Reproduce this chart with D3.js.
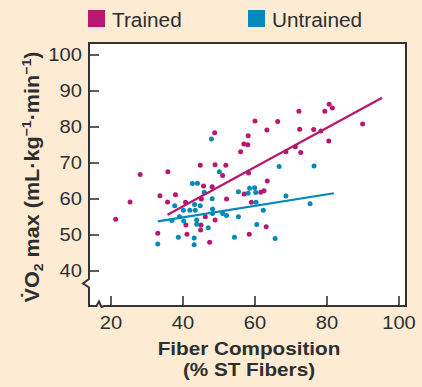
<!DOCTYPE html>
<html>
<head>
<meta charset="utf-8">
<script src="https://cdn.jsdelivr.net/npm/d3@7"></script>
<style>
  body { margin: 0; background: #fdebd4; }
  svg { display: block; }
  text { font-family: "Liberation Sans", Arial, Helvetica, sans-serif; fill: #2e2e2e; }
</style>
</head>
<body>
<svg id="chart" width="422" height="387"></svg>
<script>
// values
const trainedFiber = [21.3, 25.3, 28.1, 33.0, 33.6, 35.7, 35.8, 37.9, 40.7, 40.8, 41.1, 44.8, 45.1, 45.0, 44.9, 45.7, 46.2, 47.4, 48.1, 48.8, 48.9, 48.9, 51.0, 51.9, 52.1, 56.0, 56.9, 58.0, 58.1, 58.2, 57.0, 58.4, 59.0, 60.0, 61.6, 62.5, 63.1, 63.4, 63.3, 66.3, 68.6, 71.2, 72.2, 72.4, 72.7, 76.3, 78.3, 79.4, 80.5, 80.6, 81.5, 89.9];
const trainedVO2 = [54.4, 59.2, 66.8, 50.5, 60.9, 59.2, 67.6, 61.2, 59.1, 52.8, 50.2, 69.4, 60.0, 52.8, 51.4, 63.6, 55.1, 48.0, 63.4, 78.4, 69.5, 54.2, 66.5, 69.4, 60.0, 73.1, 75.3, 75.1, 77.6, 67.2, 61.4, 50.2, 59.1, 81.7, 61.9, 62.3, 52.3, 65.0, 79.2, 81.5, 73.1, 74.5, 84.4, 79.4, 72.9, 79.3, 78.9, 84.4, 76.1, 86.3, 85.3, 80.8];
const untrainedFiber = [33.0, 36.9, 37.7, 38.7, 39.0, 40.1, 40.2, 41.9, 42.6, 43.1, 43.1, 43.2, 43.4, 43.8, 43.8, 44.0, 44.8, 45.9, 47.0, 47.9, 48.1, 48.2, 48.2, 50.1, 51.0, 52.1, 54.3, 55.4, 55.4, 58.1, 58.5, 59.9, 60.2, 60.3, 60.5, 62.3, 65.6, 66.7, 68.6, 75.3, 76.4];
const untrainedVO2 = [47.5, 54.0, 58.1, 49.4, 55.1, 56.9, 53.9, 56.9, 64.3, 49.2, 47.3, 58.5, 56.9, 54.2, 53.0, 64.4, 58.1, 61.9, 52.0, 76.7, 60.1, 57.2, 56.0, 67.6, 56.0, 55.4, 49.4, 62.0, 55.1, 61.6, 63.0, 63.1, 61.8, 59.1, 52.9, 56.9, 49.0, 69.0, 60.8, 58.7, 69.2];
// fitted lines: [fiber, vo2] at each end
const trainedFit = [[35.7, 55.6], [95.3, 88.1]];
const untrainedFit = [[33.0, 53.8], [81.9, 61.6]];
const xTicks = [20, 40, 60, 80, 100];
const yTicks = [40, 50, 60, 70, 80, 90, 100];
const series = ["Trained", "Untrained"];

const colors = { Trained: "#b8176f", Untrained: "#0089ba" };
const ink = "#333";

const svg = d3.select("#chart");

// frame of the plot
const fLeft = 89, fRight = 406, fTop = 43, fBottom = 306;

const x = d3.scaleLinear().domain([20, 100]).range([111, 399]);
const y = d3.scaleLinear().domain([40, 100]).range([271, 55]);

svg.append("rect")
  .attr("x", fLeft).attr("y", fTop)
  .attr("width", fRight - fLeft).attr("height", fBottom - fTop)
  .attr("fill", "white");

// box with axis breaks at the bottom-left corner
svg.append("path")
  .attr("d", `M${fLeft},279 L83,283.5 L${fLeft},287.5 L${fLeft},${fBottom}` +
    ` L96.5,${fBottom} L99,301.5 L101.5,${fBottom + 1} L104,${fBottom}` +
    ` L${fRight},${fBottom} L${fRight},${fTop} L${fLeft},${fTop} Z`)
  .attr("fill", "none")
  .attr("stroke", ink)
  .attr("stroke-width", 2);

// the type in the picture is a bit wider than Liberation Sans
const stretch = 1.12;

// y axis ticks (inside)
const yAxis = svg.append("g");
yAxis.selectAll("line")
  .data(yTicks)
  .join("line")
  .attr("x1", fLeft).attr("x2", fLeft + 10)
  .attr("y1", d => y(d)).attr("y2", d => y(d))
  .attr("stroke", ink).attr("stroke-width", 1.6);
yAxis.selectAll("text")
  .data(yTicks)
  .join("text")
  .attr("transform", d => `translate(82,${y(d)}) scale(${stretch},1)`)
  .attr("dy", "0.36em")
  .attr("text-anchor", "end")
  .attr("font-size", 18)
  .text(d => d);

// x axis ticks (inside)
const xAxis = svg.append("g");
xAxis.selectAll("line")
  .data(xTicks)
  .join("line")
  .attr("x1", d => x(d)).attr("x2", d => x(d))
  .attr("y1", fBottom).attr("y2", fBottom - 10)
  .attr("stroke", ink).attr("stroke-width", 1.6);
xAxis.selectAll("text")
  .data(xTicks)
  .join("text")
  .attr("transform", d => `translate(${x(d)},329) scale(${stretch},1)`)
  .attr("text-anchor", "middle")
  .attr("font-size", 18)
  .text(d => d);

// axis titles
svg.append("text")
  .attr("transform", "translate(249,355) scale(1.15,1)")
  .attr("text-anchor", "middle")
  .attr("font-size", 18).attr("font-weight", "bold")
  .text("Fiber Composition");
svg.append("text")
  .attr("transform", "translate(249,375.5) scale(1.15,1)")
  .attr("text-anchor", "middle")
  .attr("font-size", 18).attr("font-weight", "bold")
  .text("(% ST Fibers)");

const yTitle = svg.append("text")
  .attr("transform", "translate(38.5,177) rotate(-90) scale(1.08,1)")
  .attr("text-anchor", "middle")
  .attr("font-size", 20).attr("font-weight", "bold");
yTitle.append("tspan").text("V\u0307O");
yTitle.append("tspan").attr("font-size", 13).attr("dy", 4).text("2");
yTitle.append("tspan").attr("dy", -4).text(" max (mL\u00b7kg");
yTitle.append("tspan").attr("font-size", 13).attr("dy", -8).text("\u22121");
yTitle.append("tspan").attr("dy", 8).text("\u00b7min");
yTitle.append("tspan").attr("font-size", 13).attr("dy", -8).text("\u22121");
yTitle.append("tspan").attr("dy", 8).text(")");

// points
const plot = svg.append("g");
const trained = trainedFiber.map((f, i) => ({ f, v: trainedVO2[i] }));
const untrained = untrainedFiber.map((f, i) => ({ f, v: untrainedVO2[i] }));

plot.append("g").selectAll("circle")
  .data(trained)
  .join("circle")
  .attr("cx", d => x(d.f)).attr("cy", d => y(d.v))
  .attr("r", 2.5)
  .attr("fill", colors.Trained);

plot.append("g").selectAll("circle")
  .data(untrained)
  .join("circle")
  .attr("cx", d => x(d.f)).attr("cy", d => y(d.v))
  .attr("r", 2.5)
  .attr("fill", colors.Untrained);

// fitted lines
const line = d3.line().x(d => x(d[0])).y(d => y(d[1]));
plot.append("path").attr("d", line(trainedFit))
  .attr("fill", "none").attr("stroke", colors.Trained).attr("stroke-width", 2.2);
plot.append("path").attr("d", line(untrainedFit))
  .attr("fill", "none").attr("stroke", colors.Untrained).attr("stroke-width", 2.2);

// legend
const legendX = d3.scaleOrdinal().domain(series).range([88, 248]);
const legend = svg.append("g").selectAll("g")
  .data(series)
  .join("g")
  .attr("transform", d => `translate(${legendX(d)},10)`);
legend.append("rect")
  .attr("width", 17).attr("height", 17)
  .attr("fill", d => colors[d]);
legend.append("text")
  .attr("transform", "translate(24,16.5) scale(1.04,1)")
  .attr("font-size", 20)
  .text(d => d);
</script>
</body>
</html>
